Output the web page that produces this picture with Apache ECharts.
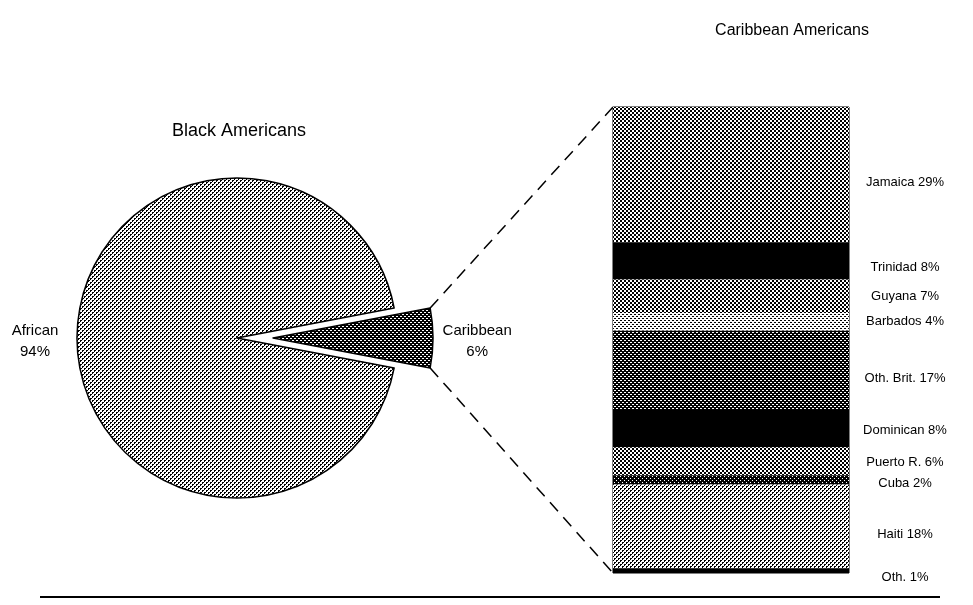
<!DOCTYPE html>
<html>
<head>
<meta charset="utf-8">
<script src="https://cdn.jsdelivr.net/npm/echarts@6/dist/echarts.min.js"></script>
<style>
  html, body { margin: 0; padding: 0; background: #fff; }
  #chart { width: 973px; height: 605px; }
</style>
</head>
<body>
<div id="chart"></div>
<script>
// Black Americans by origin
const pieNames = ['Caribbean', 'African']
const pieValues = [6, 94]

// Caribbean Americans by country (top to bottom)
const islandNames = ['Jamaica', 'Trinidad', 'Guyana', 'Barbados', 'Oth. Brit.', 'Dominican', 'Puerto R.', 'Cuba', 'Haiti', 'Oth.']
const islandShares = [29, 8, 7, 4, 17, 8, 6, 2, 18, 1]

// 4x4 halftone tiles, X = black
const TILES = {
  solid:   ['XXXX', 'XXXX', 'XXXX', 'XXXX'],
  vdark:   ['.XXX', 'XXXX', 'XX.X', 'XXXX'],
  dark:    ['..XX', 'XXXX', 'XX..', 'XXXX'],
  medium:  ['XX..', 'XX..', '..XX', '..XX'],
  light:   ['XX..', 'X...', '..XX', '..X.'],
  vlight:  ['XX..', '....', '..XX', '....'],
}
const islandTones = ['medium', 'solid', 'medium', 'vlight', 'dark', 'solid', 'medium', 'vdark', 'light', 'solid']
const pieTones = ['dark', 'light']
// small vertical nudges of the band labels (px), as printed
const labelNudge = [8, 7, 1, 0, 8, 2, 1, 4, 8, 7]

const FONT = '"Liberation Sans", Arial, Helvetica, sans-serif'

// layout
const PIE_CX = 237, PIE_CY = 338, PIE_R = 160, EXPLODE = 36
const BAR_L = 613, BAR_R = 849, BAR_T = 107, BAR_B = 573

function makePattern(name) {
  const rows = TILES[name]
  const c = document.createElement('canvas')
  c.width = 4
  c.height = 4
  const ctx = c.getContext('2d')
  ctx.fillStyle = '#fff'
  ctx.fillRect(0, 0, 4, 4)
  ctx.fillStyle = '#000'
  rows.forEach((row, y) => {
    for (let x = 0; x < 4; x++) {
      if (row[x] === 'X') ctx.fillRect(x, y, 1, 1)
    }
  })
  return { image: c, repeat: 'repeat' }
}

const chart = echarts.init(document.getElementById('chart'), null, { renderer: 'canvas' })

const halfAngle = pieValues[0] / 100 * 180
const rad = halfAngle * Math.PI / 180
const sliceTop = [PIE_CX + EXPLODE + PIE_R * Math.cos(rad), PIE_CY - PIE_R * Math.sin(rad)]
const sliceBottom = [sliceTop[0], PIE_CY + PIE_R * Math.sin(rad)]

const barSeries = islandNames.map((name, i) => ({
  name,
  type: 'bar',
  stack: 'total',
  barWidth: BAR_R - BAR_L,
  data: [islandShares[i]],
  itemStyle: { color: makePattern(islandTones[i]) },
  label: {
    show: true,
    position: [BAR_R - BAR_L + 56, '50%'],
    offset: [0, labelNudge[i]],
    align: 'center',
    verticalAlign: 'middle',
    formatter: name + ' ' + islandShares[i] + '%',
    fontFamily: FONT,
    fontSize: 13,
    color: '#000',
  },
  silent: true,
}))

// pie labels, right of the pulled-out slice and left of the big one
const pieLabelX = [sliceTop[0] + 47, PIE_CX - PIE_R - 42]
const pieLabels = pieNames.map((name, i) => ({
  type: 'text',
  x: pieLabelX[i],
  y: PIE_CY + 3,
  silent: true,
  style: {
    text: name + '\n' + pieValues[i] + '%',
    font: '15px ' + FONT,
    fill: '#000',
    align: 'center',
    verticalAlign: 'middle',
    lineHeight: 21,
  },
}))

const option = {
  animation: false,
  backgroundColor: '#fff',
  title: [
    {
      text: 'Black Americans',
      left: PIE_CX - 3, top: 117, textAlign: 'center',
      textStyle: { fontFamily: FONT, fontSize: 18, fontWeight: 'normal', color: '#000' },
    },
    {
      text: 'Caribbean Americans',
      left: 787, top: 18, textAlign: 'center',
      textStyle: { fontFamily: FONT, fontSize: 16, fontWeight: 'normal', color: '#000' },
    },
  ],
  grid: { left: BAR_L, right: 973 - BAR_R, top: BAR_T, bottom: 605 - BAR_B },
  xAxis: { type: 'category', data: ['Caribbean'], show: false },
  yAxis: { type: 'value', min: 0, max: 100, inverse: true, show: false },
  series: [
    {
      type: 'pie',
      center: [PIE_CX, PIE_CY],
      radius: [0, PIE_R],
      startAngle: halfAngle,
      clockwise: true,
      selectedMode: 'single',
      selectedOffset: EXPLODE,
      silent: true,
      itemStyle: { borderColor: '#000', borderWidth: 1.5 },
      label: { show: false },
      labelLine: { show: false },
      data: pieNames.map((name, i) => ({
        name,
        value: pieValues[i],
        selected: i === 0,
        itemStyle: { color: makePattern(pieTones[i]) },
      })),
    },
    ...barSeries,
  ],
  graphic: [
    ...pieLabels,
    {
      type: 'rect',
      shape: { x: BAR_L, y: BAR_T, width: BAR_R - BAR_L, height: BAR_B - BAR_T },
      style: { fill: null, stroke: '#000', lineWidth: 1 },
      silent: true,
    },
    {
      type: 'line',
      shape: { x1: sliceTop[0], y1: sliceTop[1], x2: BAR_L, y2: BAR_T },
      style: { stroke: '#000', lineWidth: 1.5, lineDash: [12, 8] },
    },
    {
      type: 'line',
      shape: { x1: sliceBottom[0], y1: sliceBottom[1], x2: BAR_L, y2: BAR_B },
      style: { stroke: '#000', lineWidth: 1.5, lineDash: [12, 8] },
    },
    {
      type: 'line',
      shape: { x1: 40, y1: 597, x2: 940, y2: 597 },
      style: { stroke: '#000', lineWidth: 2 },
    },
  ],
}

chart.setOption(option)
</script>
</body>
</html>
